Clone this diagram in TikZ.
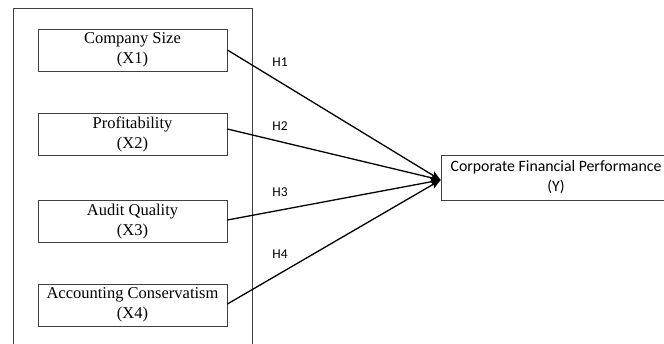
\documentclass[tikz,border=0pt]{standalone}
\usepackage{fontspec}
\setmainfont{Liberation Serif}
\newfontfamily\calibri{Carlito}
\usetikzlibrary{arrows.meta, positioning, calc}

\tikzset{
    varbox/.style={
        rectangle,
        draw=black!75,
        line width=0.8pt,
        minimum width=189pt,
        minimum height=42pt,
        inner sep=0pt,
        align=center,
        font=\fontsize{16.5}{20}\selectfont
    },
    hlabel/.style={font=\calibri\fontsize{13.5}{16}\selectfont},
    hypo/.style={line width=1.3pt, -{Stealth[length=10pt, width=8pt, inset=2pt]}}
}

\begin{document}
\begin{tikzpicture}[x=1pt, y=-1pt]
    \useasboundingbox (0,0) rectangle (664,343);
    \clip (0,0) rectangle (664,343);

    % frame round the independent variables
    \draw[black!75, line width=0.8pt] (13,350) -- (13,8) -- (252,8) -- (252,350);

    \node[varbox] (x1) at (132.5,50) {Company Size\\(X1)};
    \node[varbox] (x2) at (132.5,134) {Profitability\\(X2)};
    \node[varbox] (x3) at (132.5,221.5) {Audit Quality\\(X3)};
    \node[varbox] (x4) at (132.5,305) {Accounting Conservatism\\(X4)};

    \node[
        rectangle,
        draw=black!75,
        line width=0.8pt,
        minimum width=230pt,
        minimum height=45pt,
        inner sep=0pt,
        align=center,
        font=\calibri\fontsize{15.8}{20}\selectfont
    ] (y) at (556,177.5) {Corporate Financial Performance\\(Y)};

    \coordinate (tip) at ([yshift=-2.5pt]y.west);

    \draw[hypo] (x1.east) -- (tip);
    \draw[hypo] ([yshift=5pt]x2.east) -- (tip);
    \draw[hypo] ([yshift=1.5pt]x3.east) -- (tip);
    \draw[hypo] ([yshift=1pt]x4.east) -- (tip);

    \node[hlabel] (h1) at (280,62) {H1};
    \node[hlabel] (h2) at (280,126.5) {H2};
    \node[hlabel] (h3) at (280,192) {H3};
    \node[hlabel] (h4) at (280,254.5) {H4};
\end{tikzpicture}
\end{document}
